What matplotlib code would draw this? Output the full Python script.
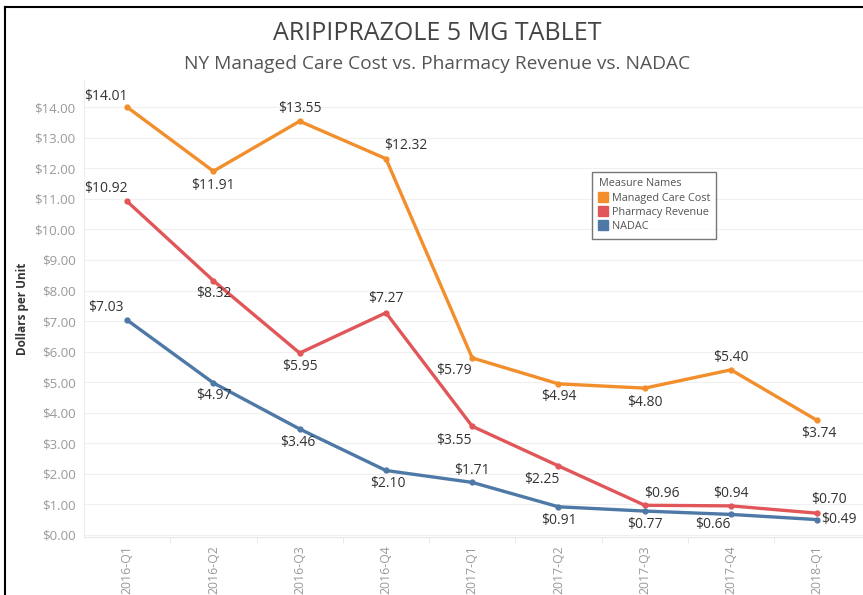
import matplotlib
matplotlib.use("Agg")
import matplotlib.pyplot as plt
from matplotlib.lines import Line2D
import numpy as np

plt.rcParams["font.family"] = ["Open Sans", "DejaVu Sans"]

quarters = ["2016-Q1", "2016-Q2", "2016-Q3", "2016-Q4", "2017-Q1",
            "2017-Q2", "2017-Q3", "2017-Q4", "2018-Q1"]
managed_care = [14.01, 11.91, 13.55, 12.32, 5.79, 4.94, 4.80, 5.40, 3.74]
pharmacy_rev = [10.92, 8.32, 5.95, 7.27, 3.55, 2.25, 0.96, 0.94, 0.70]
nadac        = [7.03, 4.97, 3.46, 2.10, 1.71, 0.91, 0.77, 0.66, 0.49]

# label offsets in pixels (dx, dy) for each point
mc_off = [(-21, 11), (0, -14), (0, 13), (20, 13), (-18, -13),
          (0, -13), (0, -14), (0, 12), (2, -13)]
pr_off = [(-21, 13), (0, -13), (0, -13), (0, 14), (-18, -14),
          (-17, -14), (17, 12), (0, 12), (12, 14)]
na_off = [(-21, 13), (0, -13), (-2, -13), (2, -13), (0, 12),
          (0, -14), (0, -13), (-18, -10), (22, 0)]

ORANGE = "#F28E2B"
RED = "#E15759"
BLUE = "#4E79A7"

W, H = 863, 595
fig = plt.figure(figsize=(W / 100, H / 100), dpi=100)
ax = fig.add_axes([84 / W, 1 - 537 / H, (W - 84) / W, (537 - 80) / H])

x = np.arange(len(quarters))
series = [(managed_care, ORANGE, mc_off),
          (pharmacy_rev, RED, pr_off),
          (nadac, BLUE, na_off)]
for vals, col, offs in series:
    ax.plot(x, vals, color=col, lw=2.4, marker="o", ms=3.5, zorder=3,
            solid_capstyle="round")
    for xi, v, (dx, dy) in zip(x, vals, offs):
        ax.annotate(f"${v:.2f}", (xi, v), xytext=(dx, dy),
                    textcoords="offset pixels", ha="center", va="center",
                    fontsize=10, color="#333333", zorder=4)

ax.set_xlim(-0.5, len(quarters) - 0.5 + 0.03)
ax.set_ylim(-0.08, 14.9)
ax.set_yticks(np.arange(0, 15, 1))
ax.set_yticklabels([f"${v:.2f}" for v in range(15)])
ax.set_xticks(x)
ax.set_xticklabels(quarters, rotation=90)
ax.tick_params(axis="both", length=0, colors="#999999")
ax.tick_params(axis="y", pad=6, labelsize=9.5)
ax.tick_params(axis="x", pad=6, labelsize=8.8)

ax.set_xticks(np.arange(0.5, len(quarters) - 0.5, 1), minor=True)
ax.tick_params(axis="x", which="minor", length=4, color="#e6e6e6", direction="out")
ax.grid(axis="y", color="#f0f0f0", lw=0.8)
ax.set_axisbelow(True)

for s in ["top", "right"]:
    ax.spines[s].set_visible(False)
ax.spines["left"].set_color("#eeeeee")
ax.spines["bottom"].set_color("#e6e6e6")

ax.set_ylabel("Dollars per Unit", fontsize=8.5, fontweight="bold",
              color="#333333", labelpad=4)

fig.text(437 / W, 1 - 33 / H, "ARIPIPRAZOLE 5 MG TABLET", ha="center",
         va="center", fontsize=18, color="#444444")
fig.text(437 / W, 1 - 64 / H,
         "NY Managed Care Cost vs. Pharmacy Revenue vs. NADAC",
         ha="center", va="center", fontsize=13.8, color="#555555")

handles = [Line2D([], [], ls="none", marker="s", ms=7, color=c)
           for c in (ORANGE, RED, BLUE)]
leg = ax.legend(handles, ["Managed Care Cost", "Pharmacy Revenue", "NADAC"],
                title="Measure Names", loc="upper left",
                bbox_to_anchor=((592 - 84) / (W - 84), (537 - 172) / (537 - 80)),
                fontsize=7.8, title_fontsize=7.8, frameon=True, fancybox=False,
                handlelength=0.8, handletextpad=0.4, labelspacing=0.3,
                borderpad=0.6, borderaxespad=0)
leg.get_frame().set_edgecolor("#555555")
leg.get_frame().set_linewidth(1.0)
leg._legend_box.align = "left"
for t in leg.get_texts():
    t.set_color("#555555")
leg.get_title().set_color("#555555")

# outer frame (top and left edges visible)
fig.add_artist(Line2D([5 / W, 1], [1 - 7 / H, 1 - 7 / H], color="black", lw=1.5))
fig.add_artist(Line2D([5 / W, 5 / W], [0, 1 - 7 / H], color="black", lw=1.5))

fig.savefig("out.png", dpi=100)
